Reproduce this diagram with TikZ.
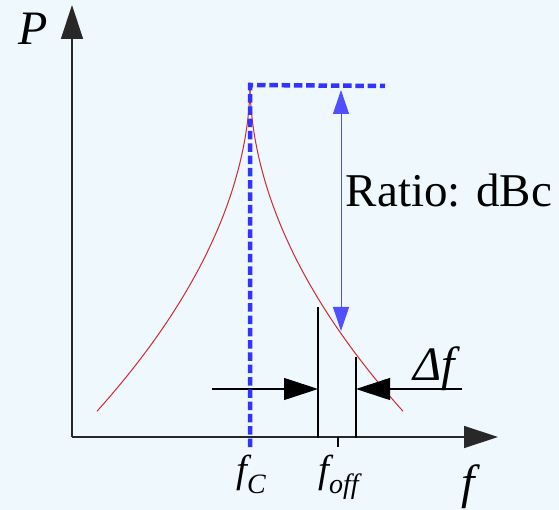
\documentclass[tikz,border=0pt]{standalone}
\usepackage{fontspec}
\setmainfont{Liberation Serif}
\usetikzlibrary{arrows.meta}
\definecolor{bgc}{RGB}{238,248,253}
\definecolor{dashblue}{RGB}{51,51,255}
\definecolor{thinblue}{RGB}{80,80,255}
\definecolor{curvered}{RGB}{210,40,50}
\definecolor{axisc}{RGB}{40,40,40}
\tikzset{
  axisline/.style={draw=axisc, line width=1.3pt, -{Triangle[length=34pt,width=22pt]}},
  dfarrow/.style={draw=black, line width=1.1pt, -{Triangle[length=34pt,width=22pt]}},
  marker/.style={draw=black, line width=1.1pt},
  bluedash/.style={draw=dashblue, line width=4.5pt, dash pattern=on 8.5pt off 3.8pt},
  ratioarrow/.style={draw=thinblue, line width=1pt, {Triangle[length=24pt,width=16pt]}-{Triangle[length=24pt,width=16pt]}},
  curve/.style={draw=curvered, line width=1pt},
  lbl/.style={inner sep=0pt, anchor=base west, font=\fontsize{48}{48}\selectfont},
}
\begin{document}
\begin{tikzpicture}[x=1pt,y=-1pt]
\fill[bgc] (0,0) rectangle (559,510);
\useasboundingbox (0,0) rectangle (559,510);
% coordinates
\coordinate (O) at (72,437);
\coordinate (Ytop) at (72,5);
\coordinate (Xend) at (498,437);
\coordinate (Peak) at (250,85);
\coordinate (FcBot) at (250,447);
\coordinate (HEnd) at (385,86);
\coordinate (RTop) at (341,90);
\coordinate (RBot) at (341,331);
\coordinate (L1Top) at (318,307);
\coordinate (L1Bot) at (318,438);
\coordinate (L2Top) at (356,357);
\coordinate (L2Bot) at (356,438);
\coordinate (LArrS) at (212,389);
\coordinate (LArrE) at (318,389);
\coordinate (RArrS) at (462,389);
\coordinate (RArrE) at (356,389);
\coordinate (TickT) at (338,437);
\coordinate (TickB) at (338,447);
% curve
\draw[curve] (250,83) -- plot[domain=0.05:12.37, samples=120] ({250+\x*\x},{83+24*pow(\x,1.04)});
\draw[curve] (250,83) -- plot[domain=0.05:12.37, samples=120] ({250-\x*\x},{83+24*pow(\x,1.04)});
% axes
\draw[axisline] (O) -- (Ytop);
\draw[axisline] (O) -- (Xend);
% offset markers
\draw[marker] (L1Top) -- (L1Bot);
\draw[marker] (L2Top) -- (L2Bot);
\draw[marker] (TickT) -- (TickB);
\draw[dfarrow] (LArrS) -- (LArrE);
\draw[dfarrow] (RArrS) -- (RArrE);
% blue dashed
\draw[bluedash] (FcBot) -- (Peak) -- (HEnd);
\draw[ratioarrow] (RTop) -- (RBot);
% labels
\node[lbl] (P) at (18,45) {\itshape P};
\node[inner sep=0pt, anchor=base, font=\fontsize{47}{47}\selectfont] (ratio) at (449,207) {Ratio: dBc};
\node[lbl] (df) at (413,380) {\itshape Δf};
\node[lbl] (fbig) at (461,498) {\itshape f};
\node[inner sep=0pt, anchor=base west, font=\fontsize{39}{39}\selectfont] (fc) at (236,482) {\itshape f\raisebox{-11pt}{\fontsize{28}{28}\selectfont C}};
\node[inner sep=0pt, anchor=base west, font=\fontsize{39}{39}\selectfont] (foff) at (318,482) {\itshape f\raisebox{-11pt}{\fontsize{28}{28}\selectfont off}};
\end{tikzpicture}
\end{document}
